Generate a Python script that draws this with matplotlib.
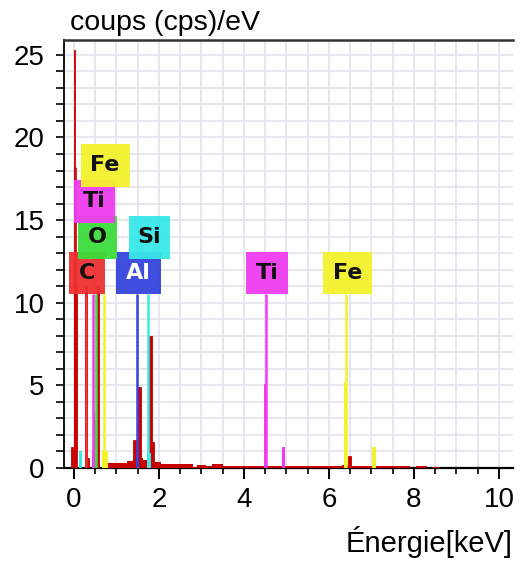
import matplotlib.pyplot as plt
from matplotlib.patches import Rectangle
from matplotlib.ticker import MultipleLocator

plt.rcParams['font.family'] = ['Liberation Sans', 'DejaVu Sans']

# raies identifiees (nom, energie keV, niveau d'empilement de l'etiquette)
raies_nom = ["C", "O", "Ti", "Fe", "Al", "Si", "Ti", "Fe"]
raies_energie = [0.277, 0.525, 0.452, 0.705, 1.486, 1.740, 4.510, 6.400]
raies_niveau = [0, 1, 2, 3, 0, 1, 0, 0]

couleurs = {"C": "#ee3030", "O": "#3cdc3c", "Ti": "#f03cf0",
            "Fe": "#f4f22c", "Al": "#3444dc", "Si": "#38e8e8"}
largeur_etiq = {"C": 0.83, "O": 0.92, "Ti": 0.97, "Fe": 1.15, "Al": 1.07, "Si": 0.96}

# fond continu du spectre (bords des canaux en keV, coups)
fond_bords = [0.78, 0.95, 1.1, 1.25, 1.38, 1.47, 1.62, 1.72, 1.9, 2.05, 2.4, 2.8,
              2.9, 3.1, 3.25, 3.5, 4.4, 4.6, 6.3, 6.55, 7.2, 7.9, 8.05, 8.3, 8.45,
              8.6, 8.7]
fond_coups = [0.28, 0.3, 0.33, 0.4, 0.5, 0.6, 0.5, 0.6, 0.35, 0.25, 0.22, 0.08,
              0.2, 0.12, 0.22, 0.12, 0.15, 0.12, 0.2, 0.12, 0.1, 0.0, 0.1, 0.0,
              0.08, 0.0]

# pics du spectre mesure
pics_energie = [-0.04, 0.035, 0.015, 0.05, 0.29, 0.33, 0.565, 1.42, 1.545, 1.79, 1.865, 6.48]
pics_coups = [1.3, 11.0, 25.3, 18.2, 11.0, 0.6, 11.0, 1.7, 4.9, 8.0, 1.6, 0.7]
pics_largeur = [0.05, 0.07, 0.015, 0.015, 0.05, 0.04, 0.05, 0.06, 0.07, 0.07, 0.05, 0.06]

# contributions des elements
contrib_nom = ["Si", "Ti", "Ti", "O", "Fe", "Al", "Si", "Ti", "Ti", "Fe", "Fe"]
contrib_energie = [0.16, 0.47, 0.48, 0.52, 0.73, 1.49, 1.765, 4.50, 4.93, 6.39, 7.06]
contrib_coups = [1.0, 1.0, 3.3, 2.9, 1.0, 0.8, 0.9, 5.1, 1.3, 5.2, 1.3]
contrib_largeur = [0.07, 0.08, 0.05, 0.05, 0.14, 0.06, 0.09, 0.08, 0.08, 0.09, 0.08]

fig = plt.figure(figsize=(5.2, 5.61), dpi=100)
ax = fig.add_axes([0.123, 0.1658, 0.8635, 0.7629])

ax.set_xlim(-0.235, 10.33)
ax.set_ylim(0, 25.9)

# grille
ax.xaxis.set_major_locator(MultipleLocator(2))
ax.xaxis.set_minor_locator(MultipleLocator(0.5))
ax.yaxis.set_major_locator(MultipleLocator(5))
ax.yaxis.set_minor_locator(MultipleLocator(1))
ax.grid(which="both", color="#e4e4ea", linewidth=1.3, zorder=0)
ax.set_axisbelow(True)

# spectre
rouge = "#c80000"
ax.stairs(fond_coups, fond_bords, fill=True, color=rouge, zorder=3)
ax.bar(pics_energie, pics_coups, width=pics_largeur, color=rouge,
       edgecolor=rouge, linewidth=0.6, zorder=3)
ax.bar(contrib_energie, contrib_coups, width=contrib_largeur,
       color=[couleurs[n] for n in contrib_nom], linewidth=0, zorder=4)

# raies et etiquettes
for nom, e, niv in zip(raies_nom, raies_energie, raies_niveau):
    ax.vlines(e, 0, 10.5, color=couleurs[nom], linewidth=1.8, zorder=5)

ordre = sorted(range(len(raies_nom)), key=lambda i: raies_niveau[i])
for i in ordre:
    nom = raies_nom[i]
    w = largeur_etiq[nom]
    xc = raies_energie[i] + 0.03
    y0 = 10.5 + 2.17 * raies_niveau[i]
    ax.add_patch(Rectangle((xc - w / 2, y0), w, 2.6, facecolor=couleurs[nom],
                           edgecolor="none", alpha=0.95, zorder=6 + raies_niveau[i]))
    ax.text(xc, y0 + 1.3, nom, ha="center", va="center", fontsize=16,
            fontweight="heavy", family="DejaVu Sans",
            color="white" if nom == "Al" else "#111111", zorder=10)

# axes
ax.spines["right"].set_visible(False)
ax.spines["left"].set_linewidth(1.3)
ax.spines["bottom"].set_linewidth(1.6)
ax.spines["top"].set_linewidth(1.8)
ax.spines["top"].set_color("#333333")
ax.tick_params(axis="y", which="both", direction="out", length=6, width=1.2,
               labelsize=20, pad=8)
ax.tick_params(axis="x", which="major", direction="out", length=8, width=1.4,
               labelsize=20, pad=6)
ax.tick_params(axis="x", which="minor", direction="out", length=4, width=1.2)

fig.text(0.135, 0.9465, "coups (cps)/eV", fontsize=20.5, va="baseline", ha="left")
fig.text(0.9865, 0.016, "Énergie[keV]", fontsize=21, va="baseline", ha="right")

fig.savefig("out.png", dpi=100)
